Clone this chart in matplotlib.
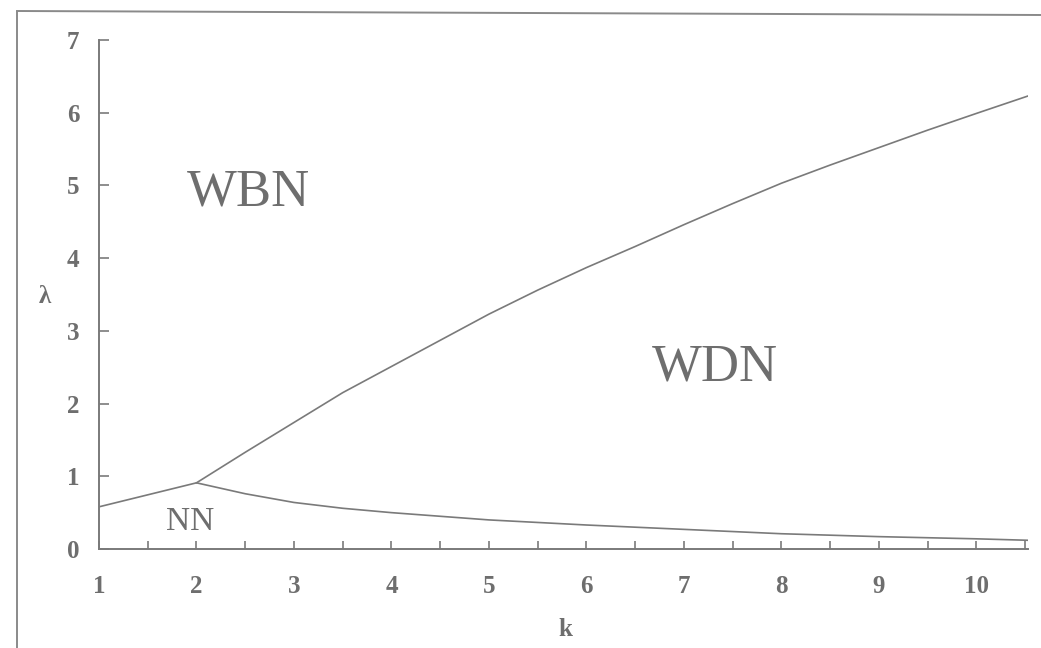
import matplotlib
matplotlib.use("Agg")
import matplotlib.pyplot as plt
from matplotlib.lines import Line2D

# Data
k_upper = [2.0, 2.5, 3.0, 3.5, 4.0, 4.5, 5.0, 5.5, 6.0, 6.5, 7.0, 7.5, 8.0, 8.5, 9.0, 9.5, 10.0, 10.53]
lam_upper = [0.91, 1.33, 1.74, 2.15, 2.51, 2.87, 3.23, 3.56, 3.87, 4.16, 4.46, 4.75, 5.03, 5.28, 5.52, 5.76, 5.99, 6.23]

k_lower = [1.0, 2.0, 2.5, 3.0, 3.5, 4.0, 5.0, 6.0, 7.0, 8.0, 9.0, 10.0, 10.53]
lam_lower = [0.58, 0.91, 0.76, 0.64, 0.56, 0.50, 0.40, 0.33, 0.27, 0.21, 0.17, 0.14, 0.12]

x_ticks = [1, 2, 3, 4, 5, 6, 7, 8, 9, 10]
y_ticks = [0, 1, 2, 3, 4, 5, 6, 7]
region_labels = ["WBN", "WDN", "NN"]

GRAY = "#7a7a7a"
TXT = "#6e6e6e"
serif = ["Liberation Serif", "DejaVu Serif"]

W, H = 1041, 648
fig = plt.figure(figsize=(W / 100, H / 100), dpi=100)
fig.patch.set_facecolor("white")

# outer frame of the scanned figure
fig.add_artist(Line2D([17 / W, 17 / W], [0, 1 - 12 / H], transform=fig.transFigure, color="#8a8a8a", lw=1.4))
fig.add_artist(Line2D([17 / W, 1.0], [1 - 11 / H, 1 - 15 / H], transform=fig.transFigure, color="#8a8a8a", lw=1.4))

ax = fig.add_axes([99 / W, (H - 549) / H, (1028 - 99) / W, (549 - 40) / H])
ax.set_xlim(1, 10.53)
ax.set_ylim(0, 7)

ax.plot(k_upper, lam_upper, color=GRAY, lw=1.2)
ax.plot(k_lower, lam_lower, color=GRAY, lw=1.2)

for s in ["top", "right"]:
    ax.spines[s].set_visible(False)
for s in ["left", "bottom"]:
    ax.spines[s].set_color(GRAY)
    ax.spines[s].set_linewidth(1.4)

ax.set_xticks(x_ticks)
ax.set_xticks([x + 0.5 for x in x_ticks], minor=True)
ax.set_yticks(y_ticks)
ax.tick_params(axis="x", which="both", direction="in", length=6, width=1.2, color=GRAY,
               pad=19, labelsize=18, labelcolor=TXT)
ax.tick_params(axis="y", which="both", direction="in", length=7, width=1.2, color=GRAY,
               pad=14, labelsize=18, labelcolor=TXT)
for lab in ax.get_xticklabels() + ax.get_yticklabels():
    lab.set_family(serif)
    lab.set_fontweight("bold")

fig.text(45 / W, 1 - 297 / H, "λ", ha="center", va="center", fontsize=18, color=TXT, family=serif, fontweight="bold")
fig.text(565 / W, 1 - 630 / H, "k", ha="center", va="center", fontsize=18, color=TXT, family=serif, fontweight="bold")

ax.text(2.53, 4.90, region_labels[0], ha="center", va="center", fontsize=38, color=TXT, family=serif)
ax.text(7.32, 2.50, region_labels[1], ha="center", va="center", fontsize=38, color=TXT, family=serif)
ax.text(1.93, 0.37, region_labels[2], ha="center", va="center", fontsize=24, color=TXT, family=serif)

fig.savefig("out.png", dpi=100, facecolor="white")
